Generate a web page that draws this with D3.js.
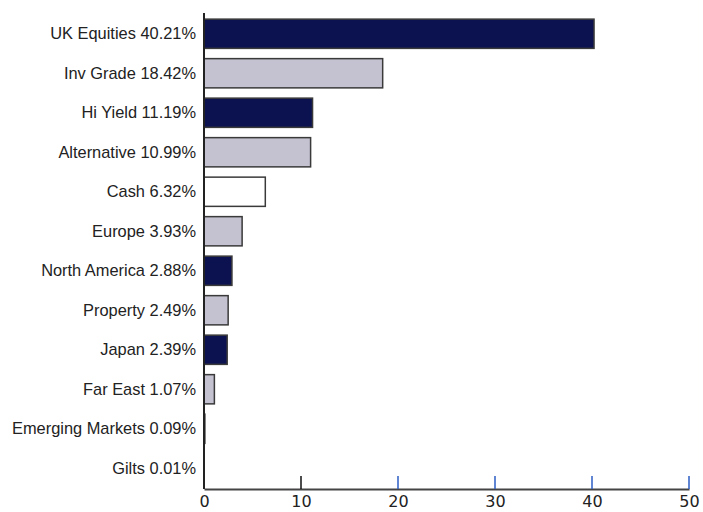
<!DOCTYPE html>
<html>
<head>
<meta charset="utf-8">
<script src="https://cdn.jsdelivr.net/npm/d3@7"></script>
<style>
    body { margin: 0; background: #fff; }
    svg text { font-family: "Liberation Sans", Arial, sans-serif; }
</style>
</head>
<body>
<div id="chart"></div>
<script>
const categories = ["UK Equities 40.21%", "Inv Grade 18.42%", "Hi Yield 11.19%", "Alternative 10.99%",
    "Cash 6.32%", "Europe 3.93%", "North America 2.88%", "Property 2.49%", "Japan 2.39%",
    "Far East 1.07%", "Emerging Markets 0.09%", "Gilts 0.01%"];
const values = [40.21, 18.42, 11.19, 10.99, 6.32, 3.93, 2.88, 2.49, 2.39, 1.07, 0.09, 0.01];
const fills = ["dark", "light", "dark", "light", "white", "light", "dark", "light", "dark", "light", "light", "dark"];
const xTicks = [0, 10, 20, 30, 40, 50];

const COLORS = {
    "dark" : "#0c1150",
    "light" : "#c4c1d1",
    "white" : "#ffffff"
};

const width = 703, height = 512;
const margin = {left: 204, right: 14, top: 13, bottom: 23};

const svg = d3.select("#chart").append("svg")
    .attr("width", width)
    .attr("height", height);

const x = d3.scaleLinear()
    .domain([0, 50])
    .range([margin.left, width - margin.right]);

const y = d3.scaleBand()
    .domain(categories)
    .range([margin.top + 1, height - margin.bottom - 1])
    .paddingInner(0.26)
    .paddingOuter(0.13);

// bars
svg.selectAll(".bar")
    .data(values)
    .enter().append("rect")
    .attr("class", "bar")
    .attr("x", x(0))
    .attr("y", function(d, i) { return y(categories[i]); })
    .attr("width", function(d) { return x(d) - x(0); })
    .attr("height", y.bandwidth())
    .attr("fill", function(d, i) { return COLORS[fills[i]]; })
    .attr("stroke", "#3a3a3a")
    .attr("stroke-width", 1.5);

// category labels
svg.selectAll(".cat")
    .data(categories)
    .enter().append("text")
    .attr("class", "cat")
    .attr("x", margin.left - 8)
    .attr("y", function(d) { return y(d) + y.bandwidth() / 2; })
    .attr("dy", "0.35em")
    .attr("text-anchor", "end")
    .attr("font-size", 16.4)
    .attr("fill", "#222")
    .text(function(d) { return d; });

const axisY = height - margin.bottom;

// x axis
const xAxis = svg.append("g")
    .attr("transform", "translate(0," + axisY + ")")
    .call(d3.axisBottom(x).tickValues(xTicks).tickSize(0).tickPadding(7));
xAxis.select(".domain").attr("stroke", "#444").attr("stroke-width", 2);
xAxis.selectAll("text")
    .attr("font-size", 16)
    .attr("fill", "#222")
    .style("font-family", "\"DejaVu Sans\", sans-serif");

// upward ticks
svg.selectAll(".tick-up")
    .data(xTicks.slice(1))
    .enter().append("line")
    .attr("x1", function(d) { return x(d); })
    .attr("x2", function(d) { return x(d); })
    .attr("y1", axisY - 13)
    .attr("y2", axisY)
    .attr("stroke", function(d) { return d == 10 ? "#111" : "#2a5cc4"; })
    .attr("stroke-width", 1.5);

// y axis line
svg.append("line")
    .attr("x1", x(0)).attr("x2", x(0))
    .attr("y1", margin.top).attr("y2", axisY)
    .attr("stroke", "#222")
    .attr("stroke-width", 2);
</script>
</body>
</html>
